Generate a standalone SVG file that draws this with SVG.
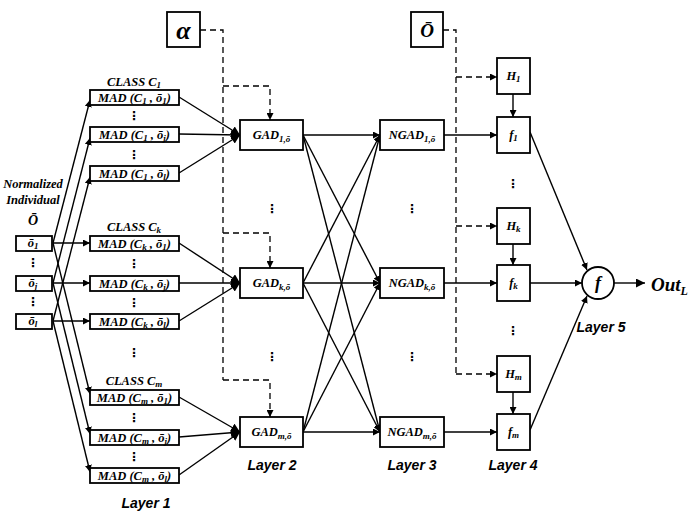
<svg xmlns="http://www.w3.org/2000/svg" width="694" height="512" viewBox="0 0 694 512">
<defs>
<marker id="ah" viewBox="0 0 10 10" refX="10" refY="5" markerWidth="7" markerHeight="7" orient="auto" markerUnits="userSpaceOnUse">
<path d="M0,0 L10,5 L0,10 z" fill="#000"/>
</marker>
<marker id="ah2" viewBox="0 0 10 10" refX="10" refY="5" markerWidth="9" markerHeight="9" orient="auto" markerUnits="userSpaceOnUse">
<path d="M0,0 L10,5 L0,10 z" fill="#000"/>
</marker>
</defs>
<style>
.box{fill:#fff;stroke:#000;stroke-width:1.8}
.ln{stroke:#000;stroke-width:1.4;fill:none}
.dash{stroke:#000;stroke-width:1.3;fill:none;stroke-dasharray:6,4}
.t{font-family:"Liberation Serif",serif;font-weight:bold;font-style:italic;font-size:12.5px;text-anchor:middle;fill:#000}
.s{font-size:9px}
.dots{font-family:"DejaVu Sans",sans-serif;font-weight:bold;font-size:12px;text-anchor:middle;fill:#000}
.lay{font-family:"Liberation Sans",sans-serif;font-weight:bold;font-style:italic;font-size:14px;text-anchor:middle;fill:#000}
</style>
<rect width="694" height="512" fill="#fff"/>

<g id="connectors">
<path class="ln" marker-end="url(#ah)" d="M53,243 L90,100"/>
<path class="ln" marker-end="url(#ah)" d="M53,243 L90,243"/>
<path class="ln" marker-end="url(#ah)" d="M53,243 L90,394"/>
<path class="ln" marker-end="url(#ah)" d="M53,283 L90,138"/>
<path class="ln" marker-end="url(#ah)" d="M53,283 L90,283"/>
<path class="ln" marker-end="url(#ah)" d="M53,283 L90,434"/>
<path class="ln" marker-end="url(#ah)" d="M53,321 L90,177"/>
<path class="ln" marker-end="url(#ah)" d="M53,321 L90,321"/>
<path class="ln" marker-end="url(#ah)" d="M53,321 L90,472"/>
<path class="ln" marker-end="url(#ah2)" d="M179,97 L240,135"/>
<path class="ln" marker-end="url(#ah2)" d="M179,134 L240,135"/>
<path class="ln" marker-end="url(#ah2)" d="M179,173 L240,135"/>
<path class="ln" marker-end="url(#ah2)" d="M179,243 L240,283"/>
<path class="ln" marker-end="url(#ah2)" d="M179,283 L240,283"/>
<path class="ln" marker-end="url(#ah2)" d="M179,321 L240,283"/>
<path class="ln" marker-end="url(#ah2)" d="M179,397 L240,432"/>
<path class="ln" marker-end="url(#ah2)" d="M179,437 L240,432"/>
<path class="ln" marker-end="url(#ah2)" d="M179,475 L240,432"/>
<path class="ln" marker-end="url(#ah)" d="M303,135 L380,135"/>
<path class="ln" marker-end="url(#ah)" d="M303,135 L380,283"/>
<path class="ln" marker-end="url(#ah)" d="M303,135 L380,432"/>
<path class="ln" marker-end="url(#ah)" d="M303,283 L380,135"/>
<path class="ln" marker-end="url(#ah)" d="M303,283 L380,283"/>
<path class="ln" marker-end="url(#ah)" d="M303,283 L380,432"/>
<path class="ln" marker-end="url(#ah)" d="M303,432 L380,135"/>
<path class="ln" marker-end="url(#ah)" d="M303,432 L380,283"/>
<path class="ln" marker-end="url(#ah)" d="M303,432 L380,432"/>
<path class="ln" marker-end="url(#ah)" d="M444,135 L497,135"/>
<path class="ln" marker-end="url(#ah)" d="M444,283 L497,283"/>
<path class="ln" marker-end="url(#ah)" d="M444,432 L497,432"/>
<path class="ln" marker-end="url(#ah)" d="M513,94 L513,117"/>
<path class="ln" marker-end="url(#ah)" d="M513,244 L513,265"/>
<path class="ln" marker-end="url(#ah)" d="M513,392 L513,414"/>
<path class="ln" marker-end="url(#ah)" d="M530,132 L587,270"/>
<path class="ln" marker-end="url(#ah)" d="M530,283 L582,283"/>
<path class="ln" marker-end="url(#ah)" d="M530,430 L587,296"/>
<path class="ln" marker-end="url(#ah2)" d="M614,283 L645,283"/>
<path class="dash" d="M200,30 L223,30 L223,380"/>
<path class="dash" marker-end="url(#ah)" d="M223,86 L270,86 L270,120"/>
<path class="dash" marker-end="url(#ah)" d="M223,233 L270,233 L270,268"/>
<path class="dash" marker-end="url(#ah)" d="M223,380 L270,380 L270,417"/>
<path class="dash" d="M443,30 L456,30 L456,374"/>
<path class="dash" marker-end="url(#ah)" d="M456,77 L497,77"/>
<path class="dash" marker-end="url(#ah)" d="M456,226 L497,226"/>
<path class="dash" marker-end="url(#ah)" d="M456,374 L497,374"/>
</g>

<g id="input">
<text class="t" x="33" y="188">Normalized</text>
<text class="t" x="33" y="204">Individual</text>
<text class="t" x="33" y="225" style="font-size:14px">Ō</text>
</g>
<g id="o1"><rect class="box" x="16" y="236" width="36" height="15"/><text class="t" x="33" y="247">ō<tspan class="s" dy="2">1</tspan></text></g>
<g id="oj"><rect class="box" x="16" y="276" width="36" height="15"/><text class="t" x="33" y="287">ō<tspan class="s" dy="2">j</tspan></text></g>
<g id="ol"><rect class="box" x="16" y="314" width="36" height="15"/><text class="t" x="33" y="325">ō<tspan class="s" dy="2">l</tspan></text></g>
<text class="dots" x="33" y="267">⋮</text>
<text class="dots" x="33" y="306">⋮</text>

<text class="t" x="134" y="86">CLASS C<tspan class="s" dy="2">1</tspan></text>
<g id="mad_c1_o1"><rect class="box" x="90" y="90" width="89" height="15"/><text class="t" x="134.5" y="101.5">MAD (C<tspan class="s" dy="2">1</tspan><tspan dy="-2"> , ō</tspan><tspan class="s" dy="2">1</tspan><tspan dy="-2">)</tspan></text></g>
<g id="mad_c1_oj"><rect class="box" x="90" y="127" width="89" height="15"/><text class="t" x="134.5" y="138.5">MAD (C<tspan class="s" dy="2">1</tspan><tspan dy="-2"> , ō</tspan><tspan class="s" dy="2">j</tspan><tspan dy="-2">)</tspan></text></g>
<g id="mad_c1_ol"><rect class="box" x="90" y="166" width="89" height="15"/><text class="t" x="134.5" y="177.5">MAD (C<tspan class="s" dy="2">1</tspan><tspan dy="-2"> , ō</tspan><tspan class="s" dy="2">l</tspan><tspan dy="-2">)</tspan></text></g>
<text class="dots" x="134" y="120">⋮</text>
<text class="dots" x="134" y="159">⋮</text>

<text class="t" x="134" y="231">CLASS C<tspan class="s" dy="2">k</tspan></text>
<g id="mad_ck_o1"><rect class="box" x="90" y="236" width="89" height="15"/><text class="t" x="134.5" y="247.5">MAD (C<tspan class="s" dy="2">k</tspan><tspan dy="-2"> , ō</tspan><tspan class="s" dy="2">1</tspan><tspan dy="-2">)</tspan></text></g>
<g id="mad_ck_oj"><rect class="box" x="90" y="276" width="89" height="15"/><text class="t" x="134.5" y="287.5">MAD (C<tspan class="s" dy="2">k</tspan><tspan dy="-2"> , ō</tspan><tspan class="s" dy="2">j</tspan><tspan dy="-2">)</tspan></text></g>
<g id="mad_ck_ol"><rect class="box" x="90" y="314" width="89" height="15"/><text class="t" x="134.5" y="325.5">MAD (C<tspan class="s" dy="2">k</tspan><tspan dy="-2"> , ō</tspan><tspan class="s" dy="2">l</tspan><tspan dy="-2">)</tspan></text></g>
<text class="dots" x="134" y="268">⋮</text>
<text class="dots" x="134" y="307">⋮</text>
<text class="dots" x="134" y="357">⋮</text>

<text class="t" x="134" y="385">CLASS C<tspan class="s" dy="2">m</tspan></text>
<g id="mad_cm_o1"><rect class="box" x="90" y="390" width="89" height="15"/><text class="t" x="134.5" y="401.5">MAD (C<tspan class="s" dy="2">m</tspan><tspan dy="-2"> , ō</tspan><tspan class="s" dy="2">1</tspan><tspan dy="-2">)</tspan></text></g>
<g id="mad_cm_oj"><rect class="box" x="90" y="430" width="89" height="15"/><text class="t" x="134.5" y="441.5">MAD (C<tspan class="s" dy="2">m</tspan><tspan dy="-2"> , ō</tspan><tspan class="s" dy="2">j</tspan><tspan dy="-2">)</tspan></text></g>
<g id="mad_cm_ol"><rect class="box" x="90" y="468" width="89" height="15"/><text class="t" x="134.5" y="479.5">MAD (C<tspan class="s" dy="2">m</tspan><tspan dy="-2"> , ō</tspan><tspan class="s" dy="2">l</tspan><tspan dy="-2">)</tspan></text></g>
<text class="dots" x="134" y="422">⋮</text>
<text class="dots" x="134" y="461">⋮</text>

<g id="alpha"><rect class="box" x="167" y="12" width="33" height="35"/><text class="t" x="183.5" y="39" style="font-size:26px">α</text></g>

<g id="gad1"><rect class="box" x="240" y="120" width="63" height="30"/><text class="t" x="271.5" y="139">GAD<tspan class="s" dy="3">1,ō</tspan></text></g>
<g id="gadk"><rect class="box" x="240" y="268" width="63" height="30"/><text class="t" x="271.5" y="287">GAD<tspan class="s" dy="3">k,ō</tspan></text></g>
<g id="gadm"><rect class="box" x="240" y="417" width="63" height="30"/><text class="t" x="271.5" y="436">GAD<tspan class="s" dy="3">m,ō</tspan></text></g>
<text class="dots" x="272" y="213">⋮</text>
<text class="dots" x="272" y="361">⋮</text>

<g id="ngad1"><rect class="box" x="380" y="120" width="64" height="30"/><text class="t" x="412" y="139">NGAD<tspan class="s" dy="3">1,ō</tspan></text></g>
<g id="ngadk"><rect class="box" x="380" y="268" width="64" height="30"/><text class="t" x="412" y="287">NGAD<tspan class="s" dy="3">k,ō</tspan></text></g>
<g id="ngadm"><rect class="box" x="380" y="417" width="64" height="30"/><text class="t" x="412" y="436">NGAD<tspan class="s" dy="3">m,ō</tspan></text></g>
<text class="dots" x="412" y="213">⋮</text>
<text class="dots" x="412" y="361">⋮</text>

<g id="obar"><rect class="box" x="411" y="12" width="32" height="35"/><text class="t" x="427" y="37" style="font-size:19px">Ō</text></g>

<g id="h1"><rect class="box" x="497" y="58" width="33" height="36"/><text class="t" x="513.5" y="80">H<tspan class="s" dy="2">1</tspan></text></g>
<g id="f1"><rect class="box" x="497" y="117" width="33" height="36"/><text class="t" x="513.5" y="139">f<tspan class="s" dy="2">1</tspan></text></g>
<g id="hk"><rect class="box" x="497" y="208" width="33" height="36"/><text class="t" x="513.5" y="230">H<tspan class="s" dy="2">k</tspan></text></g>
<g id="fk"><rect class="box" x="497" y="265" width="33" height="36"/><text class="t" x="513.5" y="287">f<tspan class="s" dy="2">k</tspan></text></g>
<g id="hm"><rect class="box" x="497" y="356" width="33" height="36"/><text class="t" x="513.5" y="378">H<tspan class="s" dy="2">m</tspan></text></g>
<g id="fm"><rect class="box" x="497" y="414" width="33" height="36"/><text class="t" x="513.5" y="436">f<tspan class="s" dy="2">m</tspan></text></g>
<text class="dots" x="513" y="188">⋮</text>
<text class="dots" x="513" y="335">⋮</text>

<g id="fout"><circle class="box" cx="598" cy="283" r="16"/><text class="t" x="598" y="289" style="font-size:18px">f</text></g>
<g id="out"><text class="t" x="651" y="291" style="font-size:19px;text-anchor:start">Out<tspan style="font-size:12px" dy="4">L</tspan></text></g>

<text class="lay" x="146" y="508">Layer 1</text>
<text class="lay" x="272" y="470">Layer 2</text>
<text class="lay" x="412" y="470">Layer 3</text>
<text class="lay" x="513" y="470">Layer 4</text>
<text class="lay" x="601" y="332">Layer 5</text>
</svg>
